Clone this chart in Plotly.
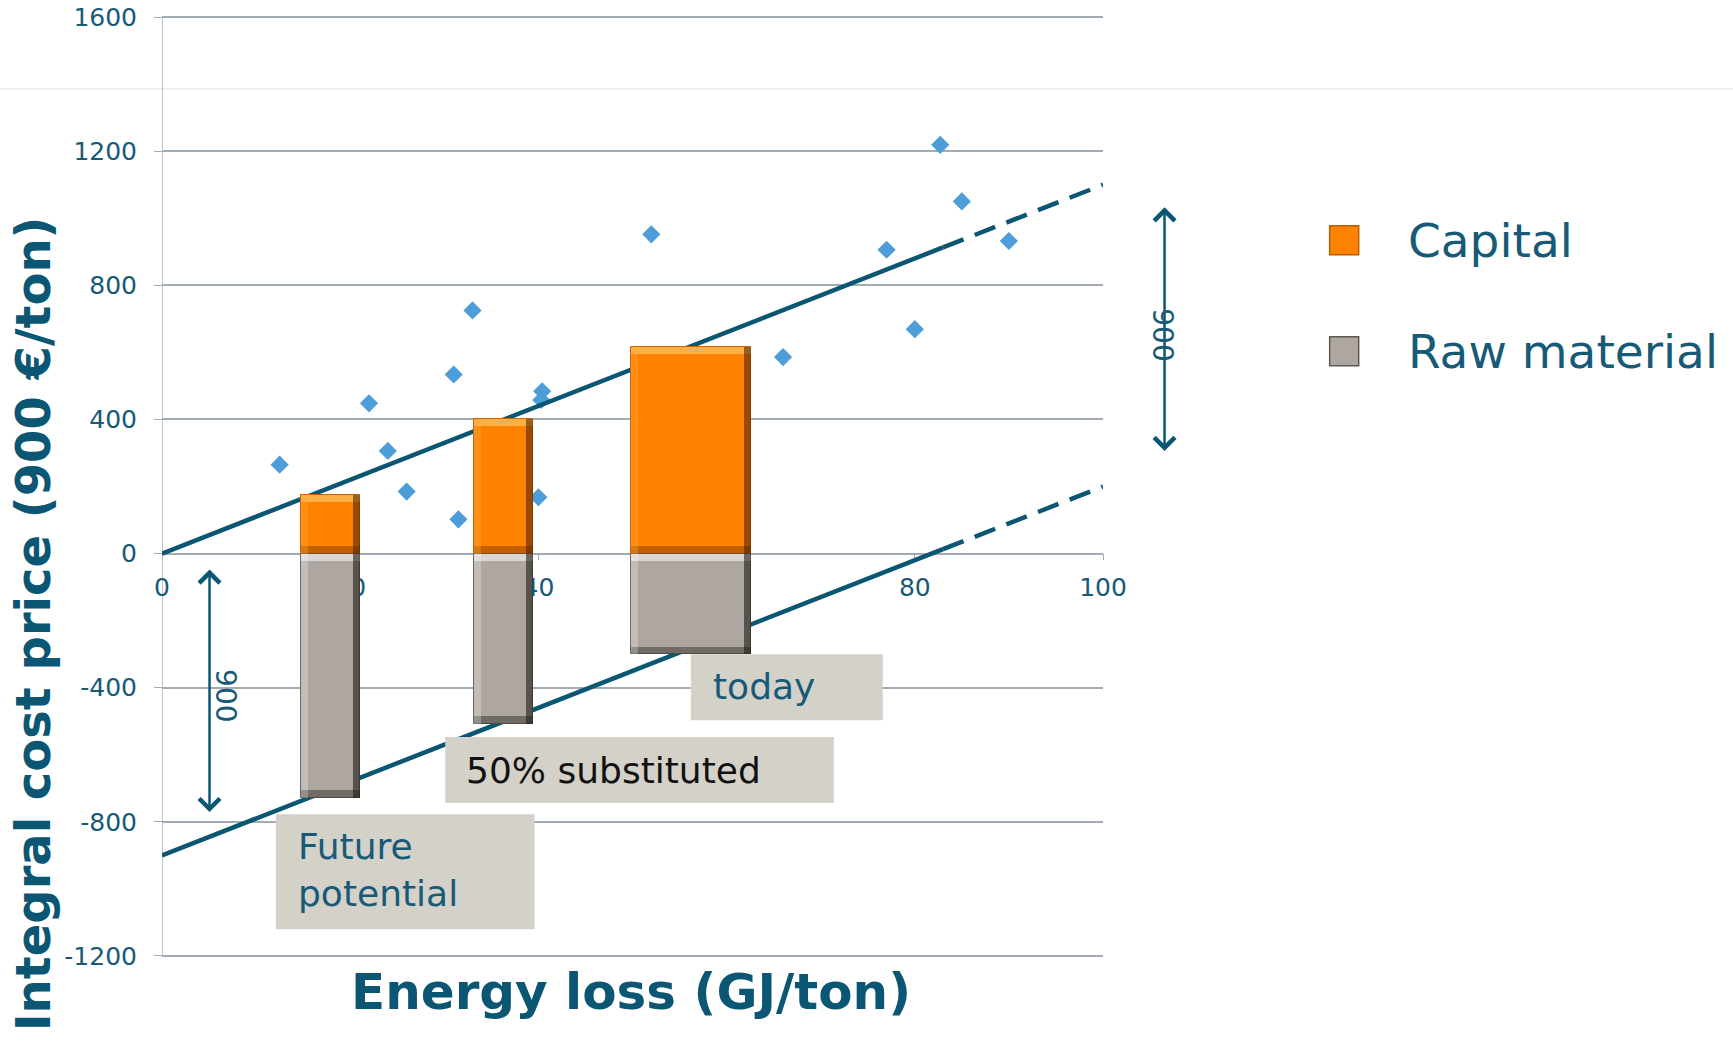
import plotly.graph_objects as go

# ---- data -------------------------------------------------------------
# plant observations: energy loss (GJ/ton) vs integral cost price
obs_energy = [12.5, 22, 24, 26, 31, 33, 31.5, 40.4, 40.3, 40, 52, 66, 77, 80, 82.7, 85, 90]
obs_cost = [265, 448, 306, 185, 534, 725, 102, 484, 458, 168, 952, 586, 906, 669, 1219, 1050, 932]

# scenarios (stacked): capital above zero, raw material below zero
scenario_energy = [17.9, 36.3, 56.2]
scenario_width = [6.3, 6.3, 12.8]
capital = [175, 402, 616]
raw_material = [-728, -507, -300]
scenario_labels = ["Future<br>potential", "50% substituted", "today"]

# trend lines (slope 11 €/GJ), solid part and extrapolated dashed part
trend_solid_x = [0, 83]
trend_dash_x = [83, 100]
upper_solid_y = [0, 913]
upper_dash_y = [913, 1100]
lower_solid_y = [-900, 13]
lower_dash_y = [13, 200]

x_ticks = [0, 20, 40, 60, 80, 100]
y_ticks = [-1200, -800, -400, 0, 400, 800, 1200, 1600]
y_tick_text = ["-1200", "-800", "-400", "0", "400", "800", "1200", "1600"]

TEAL = "#0B5673"
TEXT = "#175A77"
GRID = "#A3ACB5"
ORANGE = "#FF8200"
GREY = "#AEA7A1"
BOX = "#D4D1C9"

# plot area in pixels (range padded a little so the outer grid lines show)
Y_LO, Y_HI = -1206, 1606
PX_PER_UNIT = 939.4 / 2800
TOP_PX = 16.6 - (Y_HI - 1600) * PX_PER_UNIT
BOT_PX = 956.0 + (-1200 - Y_LO) * PX_PER_UNIT
PLOT_H = BOT_PX - TOP_PX


def py(pixel_y):
    """page pixel row -> paper y"""
    return (BOT_PX - pixel_y) / PLOT_H


fig = go.Figure()

fig.add_trace(go.Scatter(
    x=obs_energy, y=obs_cost, mode="markers",
    marker=dict(symbol="diamond", size=14, color="#4D9DD9"),
    showlegend=False, zorder=0))

for xs, ys, dash in [(trend_solid_x, upper_solid_y, "solid"),
                     (trend_dash_x, upper_dash_y, "22px,12px"),
                     (trend_solid_x, lower_solid_y, "solid"),
                     (trend_dash_x, lower_dash_y, "22px,12px")]:
    fig.add_trace(go.Scatter(
        x=xs, y=ys, mode="lines",
        line=dict(color=TEAL, width=4.5, dash=dash),
        showlegend=False, zorder=1))


def add_bar(y, base, color, width=None, offset=None, line=None):
    fig.add_trace(go.Bar(
        x=scenario_energy, y=y, base=base,
        width=width if width is not None else scenario_width,
        offset=offset,
        marker=dict(color=color, line=line or dict(width=0)),
        hoverinfo="skip", showlegend=False, zorder=2))


# main stacked blocks
add_bar(capital, 0, ORANGE, line=dict(color="#C86400", width=1))
add_bar(raw_material, 0, GREY, line=dict(color="#6E6862", width=1))

# bevel: light top edge, dark bottom edge, shaded left/right sides
EDGE_Y = 22      # cost units
EDGE_X = 0.75    # energy units
n = len(scenario_energy)
edge_w = [EDGE_X] * n
right_off = [w / 2 - EDGE_X for w in scenario_width]
left_off = [-w / 2 for w in scenario_width]

add_bar([EDGE_Y] * n, [c - EDGE_Y for c in capital], "rgba(255,190,90,0.75)")
add_bar([EDGE_Y] * n, [0] * n, "rgba(120,55,0,0.45)")
add_bar(capital, [0] * n, "rgba(70,30,0,0.55)", width=edge_w, offset=right_off)
add_bar(capital, [0] * n, "rgba(255,170,60,0.35)", width=edge_w, offset=left_off)

add_bar([-EDGE_Y] * n, [0] * n, "rgba(255,255,255,0.55)")
add_bar([-EDGE_Y] * n, [r + EDGE_Y for r in raw_material], "rgba(40,35,30,0.45)")
add_bar(raw_material, [0] * n, "rgba(30,25,20,0.6)", width=edge_w, offset=right_off)
add_bar(raw_material, [0] * n, "rgba(255,255,255,0.25)", width=edge_w, offset=left_off)

# label boxes under each scenario
boxes = [
    (12.1, 39.6, -1120, -777, 14.2, -945, TEXT),
    (30.1, 71.4, -744, -547, 32.1, -646, "#111111"),
    (56.2, 76.6, -497, -300, 58.3, -395, TEXT),
]
shapes = []
annotations = []
for (x0, x1, y0, y1, tx, ty, col), lab in zip(boxes, scenario_labels):
    shapes.append(dict(type="rect", xref="x", yref="y", x0=x0, x1=x1, y0=y0, y1=y1,
                       fillcolor=BOX, line=dict(width=0), layer="above"))
    annotations.append(dict(xref="x", yref="y", x=tx, y=ty, text=lab, showarrow=False,
                            xanchor="left", yanchor="middle", align="left",
                            font=dict(family="DejaVu Sans", size=36, color=col)))

# vertical axis line
shapes.append(dict(type="line", xref="x", yref="y", x0=0, x1=0, y0=-1200, y1=1600,
                   line=dict(color=GRID, width=1.5), layer="below"))

# faint separator line across the page
shapes.append(dict(type="line", xref="paper", yref="paper", x0=-0.2, x1=1.7,
                   y0=py(88.4), y1=py(88.4), line=dict(color="#ECECEC", width=1.5),
                   layer="below"))

# double-headed "900" span arrows
annotations.append(dict(xref="x", yref="y", x=5.05, y=-771, axref="x", ayref="y",
                        ax=5.05, ay=-43, text="", showarrow=True, arrowside="end+start",
                        arrowhead=4, startarrowhead=4, arrowsize=1.6, startarrowsize=1.6,
                        arrowwidth=2.5, arrowcolor=TEAL))
annotations.append(dict(xref="x", yref="y", x=6.8, y=-425, text="900", showarrow=False,
                        textangle=90, font=dict(family="DejaVu Sans", size=28, color=TEXT)))
annotations.append(dict(xref="paper", yref="y", x=1.0654, y=306, axref="pixel", ayref="y",
                        ax=0, ay=1037, text="", showarrow=True, arrowside="end+start",
                        arrowhead=4, startarrowhead=4, arrowsize=1.6, startarrowsize=1.6,
                        arrowwidth=2.5, arrowcolor=TEAL))
annotations.append(dict(xref="paper", yref="y", x=1.082, y=652, text="900", showarrow=False,
                        textangle=90, font=dict(family="DejaVu Sans", size=28, color=TEXT)))

# legend
half_w = 14.5 / 940.5
half_h = 14.5 / PLOT_H
for ypix, col, edge, lab in [(240, ORANGE, "#B85C00", "Capital"),
                             (351, GREY, "#5E5852", "Raw material")]:
    yp = py(ypix)
    shapes.append(dict(type="rect", xref="paper", yref="paper",
                       x0=1.2563 - half_w, x1=1.2563 + half_w,
                       y0=yp - half_h, y1=yp + half_h,
                       fillcolor=col, line=dict(color=edge, width=1.5)))
    annotations.append(dict(xref="paper", yref="paper", x=1.3222, y=yp, text=lab,
                            showarrow=False, xanchor="left", yanchor="middle",
                            font=dict(family="DejaVu Sans", size=47, color=TEXT)))

# axis titles
annotations.append(dict(xref="paper", yref="paper", x=0.498, y=py(992),
                        text="<b>Energy loss (GJ/ton)</b>", showarrow=False,
                        xanchor="center", yanchor="middle",
                        font=dict(family="DejaVu Sans", size=50, color=TEAL)))
annotations.append(dict(xref="paper", yref="paper", x=-0.1377, y=py(214),
                        text="<b>Integral cost price (900 €/ton)</b>", showarrow=False,
                        textangle=-90, xanchor="center", yanchor="top",
                        font=dict(family="DejaVu Sans", size=48, color=TEAL)))

fig.update_layout(
    width=1733, height=1046,
    margin=dict(l=162, r=630, t=TOP_PX, b=1046 - BOT_PX, autoexpand=False),
    paper_bgcolor="white", plot_bgcolor="white",
    barmode="overlay", bargap=0,
    shapes=shapes, annotations=annotations,
    xaxis=dict(range=[0, 100], tickvals=x_ticks, anchor="free",
               position=(0 - Y_LO) / (Y_HI - Y_LO), automargin=False,
               showgrid=False, zeroline=False, showline=True, linecolor=GRID, linewidth=1.5,
               ticks="outside", ticklen=6, tickcolor=GRID, ticklabelstandoff=6,
               layer="below traces",
               tickfont=dict(family="DejaVu Sans", size=25, color=TEXT)),
    yaxis=dict(range=[Y_LO, Y_HI], tickvals=y_ticks, ticktext=y_tick_text,
               anchor="free", position=0, automargin=False,
               showgrid=True, gridcolor=GRID,
               gridwidth=1.5, zeroline=False, showline=False,
               ticks="outside", ticklen=8, tickcolor=GRID, ticklabelstandoff=12,
               layer="below traces",
               tickfont=dict(family="DejaVu Sans", size=25, color=TEXT)),
)

fig.write_html("out.html")
